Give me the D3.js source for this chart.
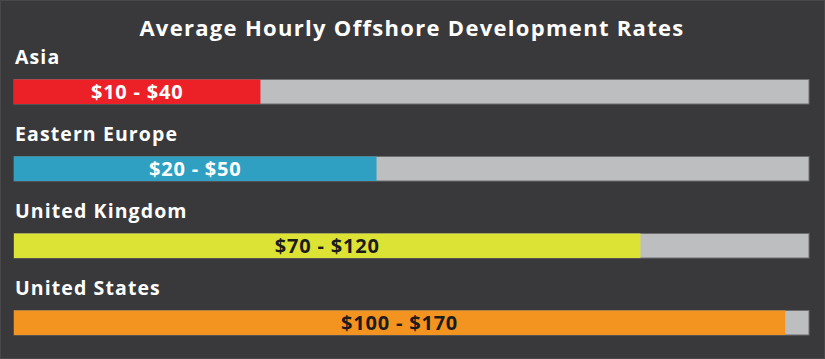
<!DOCTYPE html>
<html>
<head>
<meta charset="utf-8">
<script src="https://cdn.jsdelivr.net/npm/d3@7"></script>
<style>
  html, body { margin: 0; padding: 0; background: #39393b; }
  svg { display: block; }
</style>
</head>
<body>
<svg id="chart" width="825" height="359"></svg>
<script>
// ---- data ----
const chartTitle = "Average Hourly Offshore Development Rates";
const regions = ["Asia", "Eastern Europe", "United Kingdom", "United States"];
const lowRates = [10, 20, 70, 100];
const highRates = [40, 50, 120, 170];
// share of the grey track that each coloured bar fills (percent)
const fillShare = [31, 45.6, 78.8, 97];
const barColors = ["#ec2027", "#2f9fc2", "#dce335", "#f39320"];
const labelColors = ["#ffffff", "#ffffff", "#1b1b1b", "#1b1b1b"];

// ---- layout ----
const W = 825, H = 359;
const svg = d3.select("#chart");
const font = "'Open Sans', Lato, sans-serif";

svg.append("rect").attr("x", 0.5).attr("y", 0.5).attr("width", W - 1).attr("height", H - 1)
  .attr("fill", "#39393b").attr("stroke", "#48484a").attr("stroke-width", 1);

svg.append("text")
  .attr("x", 412).attr("y", 36)
  .attr("text-anchor", "middle")
  .attr("fill", "#ffffff")
  .attr("font-family", font).attr("font-weight", 700).attr("font-size", 22)
  .attr("letter-spacing", 1.3)
  .text(chartTitle);

const barH = 24.5;
const step = 77;
const x = d3.scaleLinear().domain([0, 100]).range([14, 809]);
const y = d3.scaleBand().domain(regions)
  .range([79.5, 79.5 + step * regions.length]).paddingInner(0).paddingOuter(0);

const rows = svg.selectAll("g.row")
  .data(regions.map((r, i) => ({ region: r, lo: lowRates[i], hi: highRates[i], share: fillShare[i], color: barColors[i], tc: labelColors[i] })))
  .join("g").attr("class", "row")
  .attr("transform", d => `translate(0, ${y(d.region)})`);

rows.append("text")
  .attr("x", 15).attr("y", -15.5)
  .attr("fill", "#ffffff")
  .attr("font-family", font).attr("font-weight", 700).attr("font-size", 19.5)
  .attr("letter-spacing", 1.1)
  .text(d => d.region);

rows.append("rect")
  .attr("x", x(0)).attr("y", 0)
  .attr("width", x(100) - x(0)).attr("height", barH)
  .attr("fill", "#bdbec0").attr("stroke", "#6e6e70").attr("stroke-width", 1);

rows.append("rect")
  .attr("x", x(0)).attr("y", 0)
  .attr("width", d => x(d.share) - x(0)).attr("height", barH)
  .attr("fill", d => d.color);

rows.append("text")
  .attr("x", d => (x(0) + x(d.share)) / 2)
  .attr("y", barH / 2 + 7)
  .attr("text-anchor", "middle")
  .attr("fill", d => d.tc)
  .attr("font-family", font).attr("font-weight", 700).attr("font-size", 20)
  .attr("letter-spacing", 0.8)
  .text(d => `$${d.lo} - $${d.hi}`);
</script>
</body>
</html>
